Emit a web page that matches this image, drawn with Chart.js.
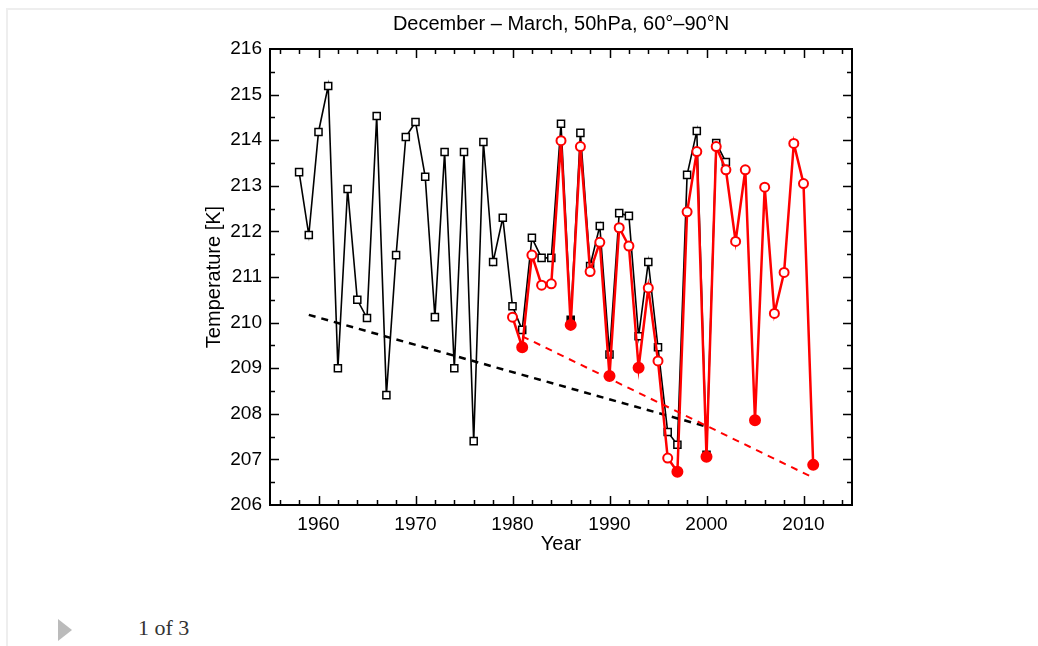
<!DOCTYPE html>
<html>
<head>
<meta charset="utf-8">
<script src="https://cdn.jsdelivr.net/npm/chart.js@4.4.1/dist/chart.umd.min.js"></script>
<style>
  html, body { margin: 0; padding: 0; background: #fff; }
  body { width: 1038px; height: 646px; position: relative; overflow: hidden; }
  #frame { position: absolute; left: 6px; top: 8px; width: 1040px; height: 660px;
           border-top: 2px solid #eeeeee; border-left: 2px solid #eeeeee; }
  #wrap { position: absolute; left: 0; top: 0; width: 1038px; height: 580px; }
  #arrow { position: absolute; left: 58px; top: 619px; width: 0; height: 0;
           border-top: 11px solid transparent; border-bottom: 11px solid transparent;
           border-left: 14px solid #bbbbbb; }
  #pager { position: absolute; left: 138px; top: 615px; font-family: "Liberation Serif", serif;
           font-size: 22px; color: #333; }
</style>
</head>
<body>
<div id="frame"></div>
<div id="wrap"><canvas id="myChart"></canvas></div>
<div id="arrow"></div>
<div id="pager">1 of 3</div>
<script>
// black series (squares), 1958-2002
const blackYears = [1958, 1959, 1960, 1961, 1962, 1963, 1964, 1965, 1966, 1967,
    1968, 1969, 1970, 1971, 1972, 1973, 1974, 1975, 1976, 1977,
    1978, 1979, 1980, 1981, 1982, 1983, 1984, 1985, 1986, 1987,
    1988, 1989, 1990, 1991, 1992, 1993, 1994, 1995, 1996, 1997,
    1998, 1999, 2000, 2001, 2002];
const blackTemps = [213.30, 211.92, 214.18, 215.19, 209.00, 212.93, 210.50, 210.10, 214.53, 208.41,
    211.48, 214.07, 214.40, 213.20, 210.12, 213.74, 209.00, 213.74, 207.40, 213.96,
    211.33, 212.30, 210.36, 209.84, 211.86, 211.42, 211.42, 214.36, 210.06, 214.16,
    211.24, 212.12, 209.30, 212.40, 212.34, 209.70, 211.33, 209.46, 207.60, 207.32,
    213.24, 214.20, 207.10, 213.94, 213.52];
const blackFilledYears = [1986];

// red series (circles), 1980-2011
const redYears = [1980, 1981, 1982, 1983, 1984, 1985, 1986, 1987, 1988, 1989,
    1990, 1991, 1992, 1993, 1994, 1995, 1996, 1997, 1998, 1999,
    2000, 2001, 2002, 2003, 2004, 2005, 2006, 2007, 2008, 2009,
    2010, 2011];
const redTemps = [210.12, 209.46, 211.48, 210.82, 210.85, 213.99, 209.95, 213.86, 211.12, 211.76,
    208.83, 212.08, 211.68, 209.01, 210.76, 209.16, 207.03, 206.73, 212.43, 213.75,
    207.06, 213.86, 213.35, 211.78, 213.35, 207.86, 212.97, 210.20, 211.10, 213.93,
    213.05, 206.88];
const redFilledYears = [1981, 1986, 1990, 1993, 1997, 2000, 2005, 2011];

// linear trends (start / end)
const blackTrendYears = [1959, 2000];
const blackTrendTemps = [210.17, 207.72];
const redTrendYears = [1981, 2011];
const redTrendTemps = [209.70, 206.60];

const xTicks = [1960, 1970, 1980, 1990, 2000, 2010];
const yTicks = [206, 207, 208, 209, 210, 211, 212, 213, 214, 215, 216];

const toPoints = (xs, ys) => xs.map((x, i) => ({ x: x, y: ys[i] }));

const FONT = '"Liberation Sans", Arial, sans-serif';

// inward tick marks on all four sides + box
const frameTicks = {
    id: 'frameTicks',
    afterDraw(chart) {
        const ctx = chart.ctx;
        const a = chart.chartArea;
        const xs = chart.scales.x;
        const ys = chart.scales.y;
        ctx.save();
        ctx.strokeStyle = '#000';
        ctx.lineWidth = 1.5;
        ctx.beginPath();
        for (let yr = xs.min + 1; yr < xs.max; yr += 2) {
            const px = Math.round(xs.getPixelForValue(yr)) + 0.5;
            const len = yr % 10 === 0 ? 9 : 5;
            ctx.moveTo(px, a.bottom); ctx.lineTo(px, a.bottom - len);
            ctx.moveTo(px, a.top); ctx.lineTo(px, a.top + len);
        }
        for (let v = ys.min + 0.5; v < ys.max; v += 0.5) {
            const py = Math.round(ys.getPixelForValue(v)) + 0.5;
            const len = Number.isInteger(v) ? 9 : 5;
            ctx.moveTo(a.left, py); ctx.lineTo(a.left + len, py);
            ctx.moveTo(a.right, py); ctx.lineTo(a.right - len, py);
        }
        ctx.stroke();
        ctx.lineWidth = 2;
        ctx.strokeRect(a.left, a.top, a.right - a.left, a.bottom - a.top);
        ctx.restore();
    }
};

const ctx = document.getElementById('myChart').getContext('2d');
const chart = new Chart(ctx, {
    type: 'line',
    data: {
        datasets: [
            {
                label: 'red',
                data: toPoints(redYears, redTemps),
                borderColor: 'rgb(255, 0, 0)',
                borderWidth: 2.5,
                pointStyle: 'circle',
                pointRadius: redYears.map(y => redFilledYears.includes(y) ? 5 : 4.5),
                pointBorderWidth: 2,
                pointBorderColor: 'rgb(255, 0, 0)',
                pointBackgroundColor: redYears.map(y => redFilledYears.includes(y) ? 'rgb(255, 0, 0)' : '#fff'),
                order: 0,
            },
            {
                label: 'red trend',
                data: toPoints(redTrendYears, redTrendTemps),
                borderColor: 'rgb(255, 0, 0)',
                borderWidth: 2,
                borderDash: [7, 6],
                pointRadius: 0,
                order: 1,
            },
            {
                label: 'black',
                data: toPoints(blackYears, blackTemps),
                borderColor: '#000',
                borderWidth: 1.6,
                pointStyle: 'rect',
                pointRadius: 5,
                pointBorderWidth: 1.5,
                pointBorderColor: '#000',
                pointBackgroundColor: blackYears.map(y => blackFilledYears.includes(y) ? '#000' : '#fff'),
                order: 2,
            },
            {
                label: 'black trend',
                data: toPoints(blackTrendYears, blackTrendTemps),
                borderColor: '#000',
                borderWidth: 2.5,
                borderDash: [7, 6],
                pointRadius: 0,
                order: 3,
            }
        ]
    },
    options: {
        responsive: true,
        maintainAspectRatio: false,
        animation: false,
        layout: { padding: { left: 202, right: 118, top: 0, bottom: 20 } },
        plugins: {
            legend: { display: false },
            tooltip: { enabled: false },
            title: {
                display: true,
                text: 'December – March, 50hPa, 60°–90°N',
                color: '#000',
                font: { family: FONT, size: 20, weight: 'normal' },
                padding: { top: 12, bottom: 13 }
            }
        },
        scales: {
            x: {
                type: 'linear',
                min: 1955,
                max: 2015,
                afterBuildTicks: s => { s.ticks = xTicks.map(v => ({ value: v })); },
                afterFit: s => { s.height = 55; },
                grid: { display: false },
                border: { display: false },
                ticks: {
                    color: '#000', padding: 0, maxRotation: 0,
                    font: { family: FONT, size: 19 },
                    callback: v => String(v)
                },
                title: {
                    display: true, text: 'Year', color: '#000',
                    font: { family: FONT, size: 20 }, padding: { top: 0, bottom: 4 }
                }
            },
            y: {
                type: 'linear',
                min: 206,
                max: 216,
                afterBuildTicks: s => { s.ticks = yTicks.map(v => ({ value: v })); },
                afterFit: s => { s.width = 68; },
                grid: { display: false },
                border: { display: false },
                ticks: { color: '#000', padding: 0, font: { family: FONT, size: 19 } },
                title: {
                    display: true, text: 'Temperature [K]', color: '#000',
                    font: { family: FONT, size: 20 }, padding: { top: 0, bottom: 0 }
                }
            },
            // empty right-hand spacer so the title centres over the plot box
            yRight: {
                type: 'linear',
                position: 'right',
                min: 206,
                max: 216,
                afterFit: s => { s.width = 68; },
                grid: { display: false },
                border: { display: false },
                ticks: { display: false }
            }
        }
    },
    plugins: [frameTicks]
});
</script>
</body>
</html>
